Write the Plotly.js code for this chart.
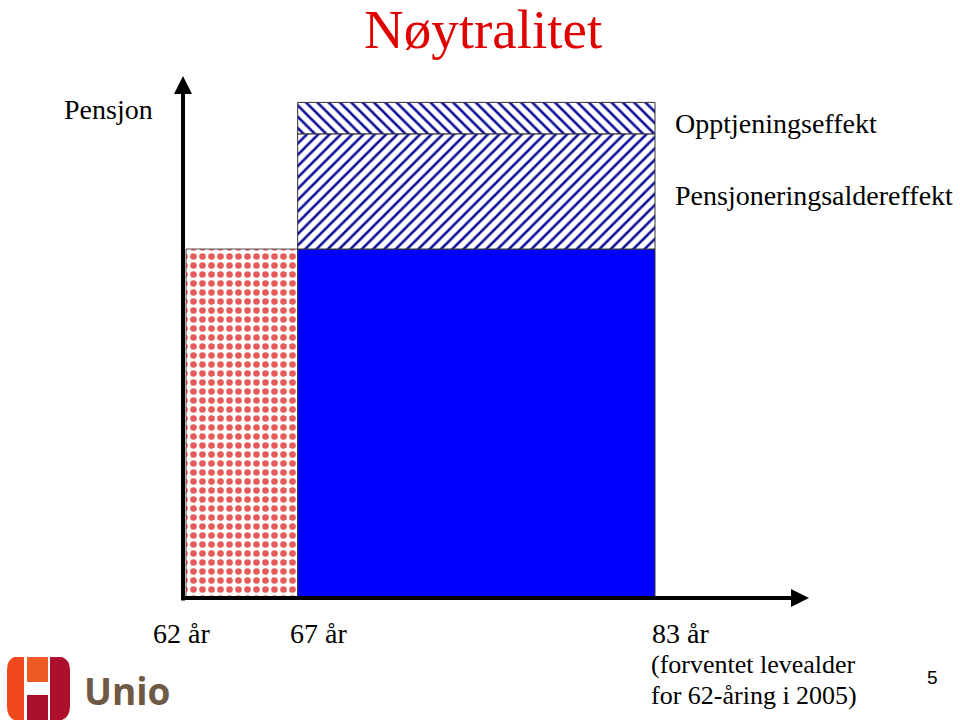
<!DOCTYPE html>
<html>
<head>
<meta charset="utf-8">
<script src="https://cdn.plot.ly/plotly-3.0.1.min.js"></script>
<style>html,body{margin:0;padding:0;background:#fff;}#chart{width:960px;height:726px;}</style>
</head>
<body>
<div id="chart"></div>
<script>
// ---- data ----
const ages = [62, 67, 83];                 // retirement age / life expectancy
const ageLabels = ["62 år", "67 år", "83 år"];
const earlyPension = [100];                // pension when retiring at 62
const basePension = [100];                 // base pension level from 67
const retirementAgeEffect = [33];          // Pensjoneringsaldereffekt
const accrualEffect = [9];                 // Opptjeningseffekt
const seriesNames = ["Opptjeningseffekt", "Pensjoneringsaldereffekt"];

// ---- scale set-up (pixel calibration) ----
const W = 960, H = 726;
const x0px = 186, x1px = 655;              // pixels for ages[0] and ages[2]
const pxPerYear = (x1px - x0px) / (ages[2] - ages[0]);
const y0px = 598, y100px = 249;
const pxPerUnit = (y0px - y100px) / 100;
const xRange = [ages[0] - x0px / pxPerYear, ages[0] + (W - x0px) / pxPerYear];
const yRange = [-(H - y0px) / pxPerUnit, y0px / pxPerUnit];
const px = v => v / W, py = v => 1 - v / H;

const outline = {color: "#333333", width: 1};
const mid = (a, b) => (a + b) / 2;

const traces = [
  {type: "bar", x: [mid(ages[0], ages[1])], width: [ages[1] - ages[0]], y: earlyPension, base: [0],
   marker: {color: "#e65a5a", line: {color: "#555555", width: 1},
            pattern: {shape: ".", fgcolor: "#e65a5a", bgcolor: "#ffffff", size: 9, solidity: 0.42}},
   hoverinfo: "skip", showlegend: false},
  {type: "bar", x: [mid(ages[1], ages[2])], width: [ages[2] - ages[1]], y: basePension, base: [0],
   marker: {color: "#0000ff", line: outline}, hoverinfo: "skip", showlegend: false},
  {type: "bar", x: [mid(ages[1], ages[2])], width: [ages[2] - ages[1]], y: retirementAgeEffect, base: basePension,
   name: seriesNames[1],
   marker: {color: "#10109a", line: outline,
            pattern: {shape: "/", fgcolor: "#10109a", bgcolor: "#ffffff", size: 8, solidity: 0.32}},
   hoverinfo: "skip", showlegend: false},
  {type: "bar", x: [mid(ages[1], ages[2])], width: [ages[2] - ages[1]], y: accrualEffect,
   base: [basePension[0] + retirementAgeEffect[0]], name: seriesNames[0],
   marker: {color: "#10109a", line: outline,
            pattern: {shape: "\\", fgcolor: "#10109a", bgcolor: "#ffffff", size: 8, solidity: 0.32}},
   hoverinfo: "skip", showlegend: false}
];

const serif = "Liberation Serif, Times New Roman, serif";
const ann = [];
// axis arrows
ann.push({xref: "paper", yref: "paper", x: px(183), y: py(76), axref: "pixel", ayref: "pixel", ax: 0, ay: 526,
  text: "", showarrow: true, arrowhead: 2, arrowsize: 0.9, arrowwidth: 4, arrowcolor: "#000", standoff: 0});
ann.push({xref: "paper", yref: "paper", x: px(809), y: py(598), axref: "pixel", ayref: "pixel", ax: -629, ay: 0,
  text: "", showarrow: true, arrowhead: 2, arrowsize: 0.9, arrowwidth: 4, arrowcolor: "#000", standoff: 0});
// title
ann.push({xref: "paper", yref: "paper", x: px(483), y: py(29), text: "Nøytralitet", showarrow: false,
  xanchor: "center", yanchor: "middle", font: {family: serif, size: 55, color: "#e00000"}});
ann.push({xref: "paper", yref: "paper", x: px(62), y: py(110), text: "Pensjon", showarrow: false,
  xanchor: "left", yanchor: "middle", font: {family: serif, size: 28, color: "#000"}});
ann.push({xref: "paper", yref: "paper", x: px(673), y: py(124), text: seriesNames[0], showarrow: false,
  xanchor: "left", yanchor: "middle", font: {family: serif, size: 28, color: "#000"}});
ann.push({xref: "paper", yref: "paper", x: px(673), y: py(195), text: seriesNames[1], showarrow: false,
  xanchor: "left", yanchor: "middle", font: {family: serif, size: 28, color: "#000"}});
// age labels
const labelShift = [-5, 21, -5];
const labelAnchor = ["center", "center", "left"];
ages.forEach((a, i) => ann.push({xref: "x", yref: "paper", x: a, y: py(633), xshift: labelShift[i],
  text: ageLabels[i], showarrow: false, xanchor: labelAnchor[i], yanchor: "middle",
  font: {family: serif, size: 28, color: "#000"}}));
ann.push({xref: "paper", yref: "paper", x: px(649), y: py(664), text: "(forventet levealder", showarrow: false,
  xanchor: "left", yanchor: "middle", font: {family: serif, size: 26, color: "#000"}});
ann.push({xref: "paper", yref: "paper", x: px(649), y: py(695), text: "for 62-åring i 2005)", showarrow: false,
  xanchor: "left", yanchor: "middle", font: {family: serif, size: 26, color: "#000"}});
ann.push({xref: "paper", yref: "paper", x: px(932), y: py(677), text: "5", showarrow: false,
  xanchor: "center", yanchor: "middle", font: {family: "Liberation Sans, Arial, sans-serif", size: 19, color: "#000"}});
ann.push({xref: "paper", yref: "paper", x: px(82), y: py(690), text: "<b>Unio</b>", showarrow: false,
  xanchor: "left", yanchor: "middle", font: {family: "Open Sans, sans-serif", size: 37, color: "#6e5a44"}});

// logo shapes (pixel -> paper)
function rect(x0, y0, x1, y1, c) {
  return {type: "rect", xref: "paper", yref: "paper", x0: px(x0), x1: px(x1), y0: py(y1), y1: py(y0),
          fillcolor: c, line: {width: 0}, layer: "above"};
}
function pathPx(d, c) {
  const conv = d.replace(/(-?\d+\.?\d*),(-?\d+\.?\d*)/g, (m, a, b) => px(+a) + "," + py(+b));
  return {type: "path", xref: "paper", yref: "paper", path: conv, fillcolor: c, line: {width: 0}, layer: "above"};
}
const shapes = [
  pathPx("M 24,657 L 14,657 Q 7,660 7,670 L 7,706 Q 7,717 14,720 L 24,720 Z", "#f0481c"),
  rect(27, 657, 48, 682, "#f05a24"),
  rect(27, 695, 48, 720, "#a8102c"),
  pathPx("M 50,657 L 62,657 Q 70,660 70,670 L 70,706 Q 70,717 62,720 L 50,720 Z", "#ad0f2d")
];

const layout = {
  width: W, height: H, margin: {l: 0, r: 0, t: 0, b: 0},
  paper_bgcolor: "#ffffff", plot_bgcolor: "#ffffff",
  barmode: "overlay", bargap: 0,
  xaxis: {range: xRange, visible: false, fixedrange: true},
  yaxis: {range: yRange, visible: false, fixedrange: true},
  annotations: ann, shapes: shapes, showlegend: false
};
Plotly.newPlot("chart", traces, layout, {displayModeBar: false, staticPlot: true});
</script>
</body>
</html>
